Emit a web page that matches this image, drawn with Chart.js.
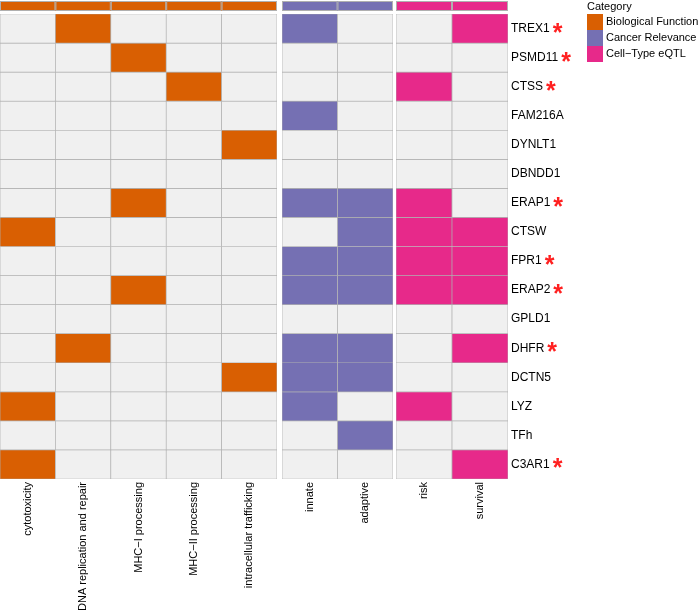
<!DOCTYPE html>
<html>
<head>
<meta charset="utf-8">
<script src="https://cdn.jsdelivr.net/npm/chart.js@4/dist/chart.umd.min.js"></script>
<style>
  body { margin: 0; background: #fff; }
  #wrap { position: relative; width: 700px; height: 614px; }
  canvas { position: absolute; top: 0; }
</style>
</head>
<body>
<div id="wrap">
  <canvas id="bio" style="left:0px" width="278" height="614"></canvas>
  <canvas id="cancer" style="left:281px" width="113" height="614"></canvas>
  <canvas id="eqtl" style="left:395px" width="305" height="614"></canvas>
</div>
<script>
// rows and columns
const genes = ['TREX1', 'PSMD11', 'CTSS', 'FAM216A', 'DYNLT1', 'DBNDD1', 'ERAP1', 'CTSW',
  'FPR1', 'ERAP2', 'GPLD1', 'DHFR', 'DCTN5', 'LYZ', 'TFh', 'C3AR1'];
const starred = ['TREX1', 'PSMD11', 'CTSS', 'ERAP1', 'FPR1', 'ERAP2', 'DHFR', 'C3AR1'];

const bioTerms = ['cytotoxicity', 'DNA replication and repair', 'MHC\u2212I processing',
  'MHC\u2212II processing', 'intracellular trafficking'];
const cancerTerms = ['innate', 'adaptive'];
const eqtlTerms = ['risk', 'survival'];

const categories = ['Biological Function', 'Cancer Relevance', 'Cell\u2212Type eQTL'];
const categoryColors = ['#D95F02', '#7570B3', '#E7298A'];

// 1 = gene belongs to that term
const bioHits = [
  [0, 1, 0, 0, 0], [0, 0, 1, 0, 0], [0, 0, 0, 1, 0], [0, 0, 0, 0, 0],
  [0, 0, 0, 0, 1], [0, 0, 0, 0, 0], [0, 0, 1, 0, 0], [1, 0, 0, 0, 0],
  [0, 0, 0, 0, 0], [0, 0, 1, 0, 0], [0, 0, 0, 0, 0], [0, 1, 0, 0, 0],
  [0, 0, 0, 0, 1], [1, 0, 0, 0, 0], [0, 0, 0, 0, 0], [1, 0, 0, 0, 0]
];
const cancerHits = [
  [1, 0], [0, 0], [0, 0], [1, 0], [0, 0], [0, 0], [1, 1], [0, 1],
  [1, 1], [1, 1], [0, 0], [1, 1], [1, 1], [1, 0], [0, 1], [0, 0]
];
const eqtlHits = [
  [0, 1], [0, 0], [1, 0], [0, 0], [0, 0], [0, 0], [1, 0], [1, 1],
  [1, 1], [1, 1], [0, 0], [0, 1], [0, 0], [1, 0], [0, 0], [0, 1]
];

const EMPTY = '#F0F0F0';
const GRID = '#B0B0B0';
const FONT = 'Liberation Sans, Arial, sans-serif';

// colour strip above each panel
const topBar = {
  id: 'topBar',
  afterDraw(chart, args, opts) {
    const ctx = chart.ctx;
    const x = chart.scales.x;
    const w = x.getPixelForValue(1) - x.getPixelForValue(0);
    ctx.save();
    chart.data.labels.forEach((_, i) => {
      const cx = x.getPixelForValue(i);
      ctx.fillStyle = opts.color;
      ctx.fillRect(cx - w / 2, 1, w, 10);
      ctx.strokeStyle = GRID;
      ctx.lineWidth = 1;
      ctx.strokeRect(cx - w / 2 + 0.5, 1.5, w - 1, 9);
    });
    ctx.restore();
  }
};

// red stars next to gene names + legend
const extras = {
  id: 'extras',
  afterDraw(chart) {
    const ctx = chart.ctx;
    const y = chart.scales.y;
    ctx.save();
    ctx.textBaseline = 'alphabetic';
    genes.forEach((g, i) => {
      if (!starred.includes(g)) return;
      ctx.font = '12px ' + FONT;
      const tw = ctx.measureText(g).width;
      const cy = y.getPixelForValue(i + 0.5);
      ctx.font = 'bold 25px ' + FONT;
      ctx.fillStyle = '#FF2020';
      ctx.fillText('*', chart.chartArea.right + 3 + tw + 3, cy + 12);
    });

    // legend
    const lx = 192;
    ctx.font = '11px ' + FONT;
    ctx.fillStyle = '#000';
    ctx.textBaseline = 'middle';
    ctx.fillText('Category', lx, 7);
    categories.forEach((c, i) => {
      ctx.fillStyle = categoryColors[i];
      ctx.fillRect(lx, 14 + i * 16, 16, 16);
      ctx.fillStyle = '#000';
      ctx.fillText(c, lx + 19, 22 + i * 16);
    });
    ctx.restore();
  }
};

function makePanel(id, terms, hits, color, showGenes) {
  const datasets = genes.map((g, r) => ({
    label: g,
    data: terms.map(() => 1),
    backgroundColor: terms.map((_, c) => hits[r][c] ? color : EMPTY),
    borderColor: GRID,
    borderWidth: 0.7,
    borderSkipped: false,
    barPercentage: 1,
    categoryPercentage: 1
  }));

  const plugins = [topBar];
  if (showGenes) plugins.push(extras);

  return new Chart(document.getElementById(id), {
    type: 'bar',
    data: { labels: terms, datasets: datasets },
    plugins: plugins,
    options: {
      responsive: false,
      animation: false,
      layout: { padding: { top: 14, left: id === 'bio' ? 0 : 1, right: showGenes ? 0 : 1, bottom: 0 } },
      plugins: {
        legend: { display: false },
        tooltip: { enabled: false },
        topBar: { color: color }
      },
      scales: {
        x: {
          stacked: true,
          grid: { display: false, drawTicks: false },
          border: { display: false },
          ticks: {
            autoSkip: false,
            minRotation: 90,
            maxRotation: 90,
            padding: 3,
            color: '#000',
            font: { family: FONT, size: 11 }
          },
          afterFit: s => { s.height = 135; }
        },
        y: {
          stacked: true,
          reverse: true,
          min: 0,
          max: genes.length,
          display: showGenes,
          position: 'right',
          grid: { display: false, drawTicks: false },
          border: { display: false },
          afterBuildTicks: s => { s.ticks = genes.map((_, i) => ({ value: i + 0.5 })); },
          ticks: {
            padding: 3,
            color: '#000',
            font: { family: FONT, size: 12 },
            callback: v => genes[Math.floor(v)]
          },
          afterFit: s => { s.width = showGenes ? 192 : 0; }
        }
      }
    }
  });
}

makePanel('bio', bioTerms, bioHits, categoryColors[0], false);
makePanel('cancer', cancerTerms, cancerHits, categoryColors[1], false);
makePanel('eqtl', eqtlTerms, eqtlHits, categoryColors[2], true);
</script>
</body>
</html>
